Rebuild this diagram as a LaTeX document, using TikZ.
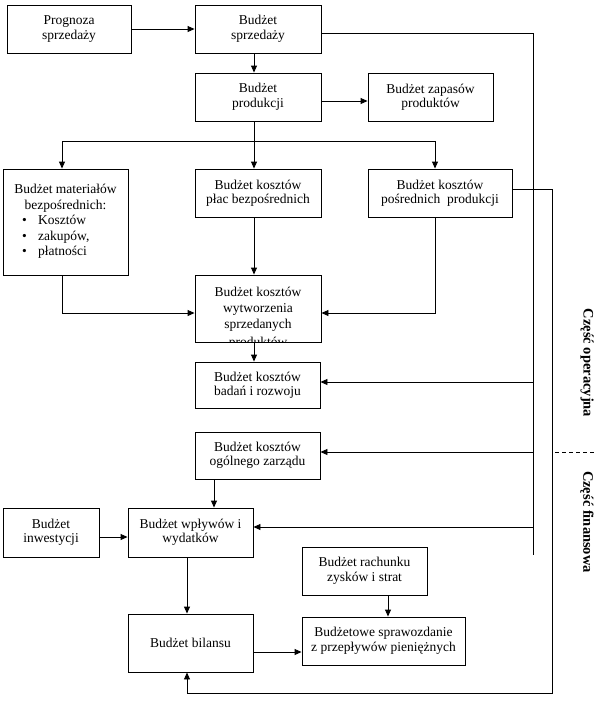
\documentclass[tikz,border=0pt]{standalone}
\usepackage{fontspec}
\setmainfont{Liberation Serif}
\usetikzlibrary{arrows.meta}
\tikzset{
  box/.style={draw, line width=0.9pt, inner sep=0pt, align=center, font=\fontsize{13.5}{14.5}\selectfont},
  txt/.style={inner sep=0pt, font=\fontsize{13.5}{14.5}\selectfont},
  lab/.style={inner sep=0pt, font=\fontsize{14.5}{15}\selectfont\bfseries},
  conn/.style={line width=0.9pt},
  arr/.style={line width=0.9pt, -{Triangle[length=7pt,width=6pt]}},
}
\begin{document}
\begin{tikzpicture}[x=1pt,y=-1pt]
\useasboundingbox (0,0) rectangle (597,707);
% boxes
\node[box, minimum width=124pt, minimum height=48pt] (prog) at (69,29) {Prognoza\\sprzedaży};
\node[box, minimum width=126pt, minimum height=48pt] (sprz) at (258,29) {Budżet\\sprzedaży};
\node[box, minimum width=126pt, minimum height=48pt] (prod) at (258,97) {Budżet\\produkcji};
\node[box, minimum width=125pt, minimum height=48pt] (zap) at (430.5,97) {Budżet zapasów\\produktów};
\node[box, minimum width=125pt, minimum height=106pt] (mat) at (65.5,222) {};
\node[box, minimum width=126pt, minimum height=48pt] (plac) at (258,193) {Budżet kosztów\\płac bezpośrednich};
\node[box, minimum width=144pt, minimum height=48pt] (posr) at (440,193) {Budżet kosztów\\pośrednich\ \ produkcji};
\node[box, minimum width=126pt, minimum height=67pt] (wytw) at (258,308.5) {};
\node[box, minimum width=125pt, minimum height=46pt] (bad) at (257.5,385) {Budżet kosztów\\badań i rozwoju};
\node[box, minimum width=125pt, minimum height=47pt] (ogol) at (257.5,455.5) {Budżet kosztów\\ogólnego zarządu};
\node[box, minimum width=96pt, minimum height=49pt] (inw) at (51,532.5) {Budżet\\inwestycji};
\node[box, minimum width=125pt, minimum height=49pt] (wpl) at (190.5,532.5) {Budżet wpływów i\\wydatków};
\node[box, minimum width=125pt, minimum height=58pt] (bil) at (190.5,643) {Budżet bilansu};
\node[box, minimum width=125pt, minimum height=48pt] (rach) at (364.5,571) {Budżet rachunku\\zysków i strat};
\node[box, minimum width=163pt, minimum height=48pt] (spr) at (383.5,641) {Budżetowe sprawozdanie\\z przepływów pieniężnych};
% text of the materials box
\node[txt, anchor=base] (mt1) at (65.5,193) {Budżet materiałów};
\node[txt, anchor=base] (mt2) at (65.5,209) {bezpośrednich:};
\node[txt, anchor=base west] (mb1) at (22,224) {\makebox[16pt][l]{\textbullet}Kosztów};
\node[txt, anchor=base west] (mb2) at (22,240) {\makebox[16pt][l]{\textbullet}zakupów,};
\node[txt, anchor=base west] (mb3) at (22,255) {\makebox[16pt][l]{\textbullet}płatności};
% text of the production cost box (clipped)
\begin{scope}
\clip (wytw.south west) rectangle (wytw.north east);
\node[txt, anchor=base] (wt1) at (258,296) {Budżet kosztów};
\node[txt, anchor=base] (wt2) at (258,312) {wytworzenia};
\node[txt, anchor=base] (wt3) at (258,328) {sprzedanych};
\node[txt, anchor=base] (wt4) at (258,346) {produktów};
\end{scope}
% helper coordinates
\coordinate (br) at (254,141);
\coordinate (brL) at (62,141);
\coordinate (brR) at (435,141);
\coordinate (z1) at (340,101);
\coordinate (m1) at (62,313);
\coordinate (p1) at (435,313);
\coordinate (o1) at (214,495);
\coordinate (i1) at (110,537);
\coordinate (w1) at (187,590);
\coordinate (r1) at (388,605);
\coordinate (s1) at (280,652);
\coordinate (A1) at (533,33);
\coordinate (A2) at (533,555);
\coordinate (tb) at (533,382);
\coordinate (to) at (533,452);
\coordinate (tw) at (533,527);
\coordinate (B1) at (552,189);
\coordinate (B2) at (552,693);
\coordinate (B3) at (187,693);
\coordinate (d1) at (555,452);
\coordinate (d2) at (597,452);
% connectors
\draw[arr] (prog.east) -- (sprz.west);
\draw[arr] (sprz.south -| br) -- (prod.north -| br);
\draw[arr] (z1 -| prod.east) -- (z1 -| zap.west);
\draw[conn] (prod.south -| br) -- (br);
\draw[conn] (brL) -- (brR);
\draw[arr] (brL) -- (brL |- mat.north);
\draw[arr] (br) -- (br |- plac.north);
\draw[arr] (brR) -- (brR |- posr.north);
\draw[arr] (mat.south -| m1) -- (m1) -- (m1 -| wytw.west);
\draw[arr] (posr.south -| p1) -- (p1) -- (p1 -| wytw.east);
\draw[arr] (plac.south -| br) -- (wytw.north -| br);
\draw[arr] (wytw.south -| br) -- (bad.north -| br);
\draw[arr] (ogol.south -| o1) -- (wpl.north -| o1);
\draw[arr] (i1 -| inw.east) -- (i1 -| wpl.west);
\draw[arr] (wpl.south -| w1) -- (bil.north -| w1);
\draw[arr] (rach.south -| r1) -- (spr.north -| r1);
\draw[arr] (s1 -| bil.east) -- (s1 -| spr.west);
\draw[conn] (A1 -| sprz.east) -- (A1) -- (A2);
\draw[arr] (tb) -- (tb -| bad.east);
\draw[arr] (to) -- (to -| ogol.east);
\draw[arr] (tw) -- (tw -| wpl.east);
\draw[arr] (B1 -| posr.east) -- (B1) -- (B2) -- (B3) -- (B3 |- bil.south);
\draw[conn, dash pattern=on 4pt off 3pt] (d1) -- (d2);
% side labels
\node[lab, rotate=-90] (op) at (587,363) {Część operacyjna};
\node[lab, rotate=-90] (fin) at (587,522) {Część finansowa};
\end{tikzpicture}
\end{document}
